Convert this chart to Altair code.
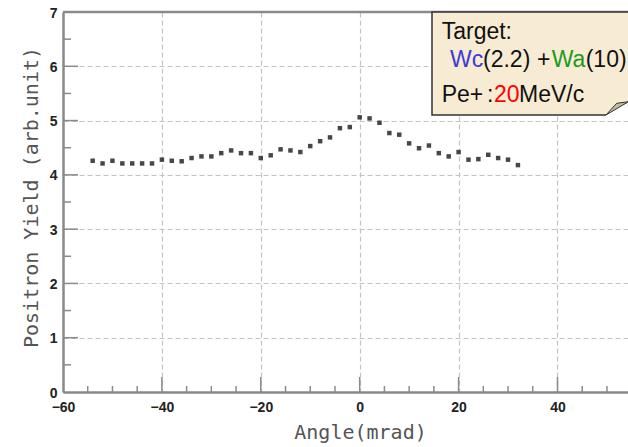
import altair as alt
import pandas as pd

# ---- data ----
angles = [-54, -52, -50, -48, -46, -44, -42, -40, -38, -36, -34, -32, -30, -28,
          -26, -24, -22, -20, -18, -16, -14, -12, -10, -8, -6, -4, -2,
          0, 2, 4, 6, 8, 10, 12, 14, 16, 18, 20, 22, 24, 26, 28, 30, 32]
yields = [4.26, 4.21, 4.26, 4.21, 4.21, 4.21, 4.21, 4.28, 4.26, 4.25, 4.31, 4.34, 4.34, 4.40,
          4.45, 4.40, 4.40, 4.31, 4.36, 4.47, 4.45, 4.42, 4.53, 4.62, 4.69, 4.86, 4.88,
          5.06, 5.04, 4.96, 4.77, 4.74, 4.58, 4.49, 4.54, 4.40, 4.34, 4.42, 4.28, 4.29, 4.37, 4.31, 4.28, 4.18]

x_tick_labels = [-60, -40, -20, 0, 20, 40]
y_tick_labels = [0, 1, 2, 3, 4, 5, 6, 7]
x_major = [-40, -20, 0, 20, 40]
x_minor = [-55, -50, -45, -35, -30, -25, -15, -10, -5, 5, 10, 15, 25, 30, 35, 45, 50]
y_major = [1, 2, 3, 4, 5, 6]
y_minor = [0.5, 1.5, 2.5, 3.5, 4.5, 5.5, 6.5]

x_title = "Angle(mrad)"
y_title = "Positron Yield (arb.unit)"

box_line1 = ["Target:"]
box_line2 = ["Wc", "(2.2)", "+", "Wa", "(10)"]
box_line3 = ["Pe+", ":", "20", "MeV/c"]

# ---- layout ----
W, H = 565, 380
XDOM = [-60, 54.26]
YDOM = [0, 7]
AXIS_GRAY = "#8a8a8a"

df = pd.DataFrame({"angle": angles, "yield": yields})
one = pd.DataFrame({"k": [0]})

xs = alt.Scale(domain=XDOM, nice=False, zero=False)
ys = alt.Scale(domain=YDOM, nice=False, zero=False)

x_axis = alt.Axis(
    values=x_tick_labels, title=x_title, ticks=False, tickSize=0,
    domainColor=AXIS_GRAY, domainWidth=2.5,
    grid=True, gridColor="#c4c4c4", gridDash=[5, 3], gridWidth=1.2,
    labelFont="Liberation Sans", labelFontWeight="bold", labelFontSize=14,
    labelColor="#222", labelPadding=8, labelFlush=False,
    titleFont="DejaVu Sans Mono", titleFontSize=20, titleFontWeight="normal",
    titleColor="#555", titleX=297, titleY=46, titleAlign="center",
    titleBaseline="alphabetic",
)
y_axis = alt.Axis(
    values=y_tick_labels, title=y_title, ticks=False, tickSize=0,
    domainColor=AXIS_GRAY, domainWidth=2.5,
    grid=True, gridColor="#c4c4c4", gridDash=[5, 3], gridWidth=1.2,
    labelFont="Liberation Sans", labelFontWeight="bold", labelFontSize=14,
    labelColor="#222", labelPadding=6, labelOffset=1,
    titleFont="DejaVu Sans Mono", titleFontSize=20, titleFontWeight="normal",
    titleColor="#555", titleX=-26, titleY=185, titleAngle=270,
    titleAlign="center", titleBaseline="alphabetic",
)

points = alt.Chart(df).mark_square(size=20, color="#333", opacity=0.9).encode(
    x=alt.X("angle:Q", scale=xs, axis=x_axis),
    y=alt.Y("yield:Q", scale=ys, axis=y_axis),
)

def xticks(vals, length):
    return alt.Chart(pd.DataFrame({"angle": vals})).mark_rule(
        color=AXIS_GRAY, strokeWidth=1.5).encode(
        x=alt.X("angle:Q", scale=xs, axis=x_axis),
        y=alt.value(H), y2=alt.value(H - length))

def yticks(vals, length):
    return alt.Chart(pd.DataFrame({"yield": vals})).mark_rule(
        color=AXIS_GRAY, strokeWidth=1.5).encode(
        y=alt.Y("yield:Q", scale=ys, axis=y_axis),
        x=alt.value(0), x2=alt.value(length))

top_border = alt.Chart(one).mark_rule(color=AXIS_GRAY, strokeWidth=2.5).encode(
    x=alt.value(0), x2=alt.value(W), y=alt.value(0))

box = alt.Chart(one).mark_rect(fill="#f7ebd3", stroke="#333", strokeWidth=1.5).encode(
    x=alt.value(369), x2=alt.value(580), y=alt.value(0), y2=alt.value(103))

cut = alt.Chart(one).mark_point(
    shape="M -0.917 0.583 L -0.917 0.8 L 1.4 0.8 L 1.4 -0.6 L 0.958 -0.525 Z",
    size=576, filled=True, fill="white", opacity=1, strokeWidth=0).encode(
    x=alt.value(554), y=alt.value(96))
flap = alt.Chart(one).mark_point(
    shape="M -0.917 0.583 L -0.025 -0.392 L 0.958 -0.525 Z",
    size=576, filled=True, fill="#bdbd98", opacity=1,
    stroke="#333", strokeWidth=1).encode(
    x=alt.value(554), y=alt.value(96))

def label(txt, x, y, color):
    return alt.Chart(one).mark_text(
        align="left", baseline="alphabetic", font="Liberation Sans",
        fontSize=23, color=color).encode(
        x=alt.value(x), y=alt.value(y), text=alt.value(txt))

texts = [
    label(box_line1[0], 378.7, 27.3, "#111"),
    label(box_line2[0], 387, 54.7, "#3b3bd6"),
    label(box_line2[1], 420, 54.7, "#111"),
    label(box_line2[2], 474, 54.7, "#111"),
    label(box_line2[3], 488.7, 54.7, "#1f9a1f"),
    label(box_line2[4], 522.7, 54.7, "#111"),
    label(box_line3[0], 378.7, 89.7, "#111"),
    label(box_line3[1], 424, 89.7, "#111"),
    label(box_line3[2], 431, 89.7, "#ff0000"),
    label(box_line3[3], 456, 89.7, "#111"),
]

chart = alt.layer(
    points,
    xticks(x_major, 15), xticks(x_minor, 6),
    yticks(y_major, 15), yticks(y_minor, 8),
    top_border, box, cut, flap, *texts,
).properties(
    width=W, height=H,
    autosize=alt.AutoSizeParams(type="none"),
    padding={"left": 63, "top": 12, "right": 0, "bottom": 55},
    background="white",
).configure_view(stroke=None)

chart.save("out.html", embed_options={"renderer": "svg", "actions": False})
